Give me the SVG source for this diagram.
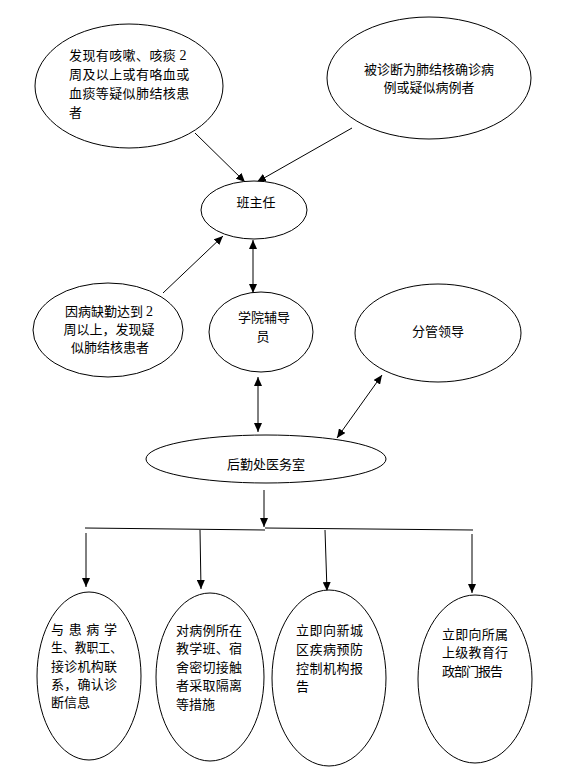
<svg xmlns="http://www.w3.org/2000/svg" width="584" height="781" viewBox="0 0 584 781">
<style>
.n{fill:#fff;stroke:#000;stroke-width:1}
.t{font-family:"Noto Sans CJK SC","Liberation Sans",sans-serif;font-size:13px;fill:#000}
.c{text-anchor:middle}
.d{font-family:"Liberation Serif",serif;font-size:14px;fill:#000}
.l{stroke:#000;stroke-width:1;fill:none}
.a{marker-end:url(#ah)}
.b{marker-start:url(#ah);marker-end:url(#ah)}
</style>
<defs>
<marker id="ah" markerUnits="userSpaceOnUse" markerWidth="9" markerHeight="8" refX="9" refY="4" orient="auto-start-reverse" viewBox="0 0 9 8">
<path d="M0,0 L9,4 L0,8 z" fill="#000"/>
</marker>
</defs>
<rect width="584" height="781" fill="#fff"/>
<g id="connectors">
<line class="l a" x1="195" y1="133" x2="245" y2="182"/>
<line class="l a" x1="352" y1="128" x2="257" y2="182"/>
<line class="l a" x1="163" y1="293" x2="223" y2="236"/>
<line class="l b" x1="253" y1="240" x2="253" y2="293"/>
<line class="l b" x1="258" y1="377" x2="258" y2="432"/>
<line class="l b" x1="382" y1="375" x2="337" y2="438"/>
<line class="l a" x1="264" y1="490" x2="264" y2="527"/>
<line class="l" x1="85" y1="528" x2="265" y2="530"/>
<line class="l" x1="265" y1="528" x2="473" y2="530"/>
<line class="l a" x1="86" y1="533" x2="86" y2="587"/>
<line class="l a" x1="200" y1="530" x2="201" y2="589"/>
<line class="l a" x1="325" y1="530" x2="327" y2="591"/>
<line class="l a" x1="472" y1="534" x2="472" y2="593"/>
</g>
<g id="n1">
<ellipse class="n" cx="129" cy="86" rx="94" ry="62"/>
<text class="t" x="69" y="60" letter-spacing="0.4">发现有咳嗽、咳痰 <tspan class="d">2</tspan></text>
<text class="t" x="69" y="79" letter-spacing="0.4">周及以上或有咯血或</text>
<text class="t" x="69" y="98" letter-spacing="0.4">血痰等疑似肺结核患</text>
<text class="t" x="69" y="117">者</text>
</g>
<g id="n2">
<ellipse class="n" cx="429" cy="78" rx="102" ry="61"/>
<text class="t c" x="429" y="74" font-size="12.5">被诊断为肺结核确诊病</text>
<text class="t c" x="429" y="92" font-size="12.5">例或疑似病例者</text>
</g>
<g id="n3">
<ellipse class="n" cx="254" cy="210" rx="53" ry="29"/>
<text class="t c" x="256" y="207" font-size="12.5">班主任</text>
</g>
<g id="n4">
<ellipse class="n" cx="108" cy="330" rx="75" ry="47"/>
<text class="t c" x="109" y="316">因病缺勤达到 <tspan class="d">2</tspan></text>
<text class="t c" x="109" y="334">周以上，发现疑</text>
<text class="t c" x="110" y="352">似肺结核患者</text>
</g>
<g id="n5">
<ellipse class="n" cx="261" cy="332" rx="52" ry="40"/>
<text class="t c" x="264" y="322">学院辅导</text>
<text class="t c" x="263" y="341">员</text>
</g>
<g id="n6">
<ellipse class="n" cx="438" cy="333" rx="83" ry="49"/>
<text class="t c" x="438" y="336" font-size="12.5">分管领导</text>
</g>
<g id="n7">
<ellipse class="n" cx="266" cy="459" rx="120" ry="24"/>
<text class="t c" x="266" y="469" font-size="12.5">后勤处医务室</text>
</g>
<g id="n8">
<ellipse class="n" cx="89" cy="676" rx="52" ry="84"/>
<text class="t" x="51" y="634" textLength="66" lengthAdjust="spacing">与 患 病 学</text>
<text class="t" x="51" y="652" textLength="71" lengthAdjust="spacingAndGlyphs">生、教职工、</text>
<text class="t" x="51" y="671" textLength="66" lengthAdjust="spacing">接诊机构联</text>
<text class="t" x="51" y="689" textLength="66" lengthAdjust="spacing">系，确认诊</text>
<text class="t" x="51" y="707">断信息</text>
</g>
<g id="n9">
<ellipse class="n" cx="210" cy="677" rx="54" ry="84"/>
<text class="t" x="176" y="635" textLength="66" lengthAdjust="spacing">对病例所在</text>
<text class="t" x="176" y="653" textLength="66" lengthAdjust="spacing">教学班、宿</text>
<text class="t" x="176" y="672" textLength="66" lengthAdjust="spacing">舍密切接触</text>
<text class="t" x="176" y="690" textLength="66" lengthAdjust="spacing">者采取隔离</text>
<text class="t" x="176" y="709">等措施</text>
</g>
<g id="n10">
<ellipse class="n" cx="329" cy="678" rx="57" ry="88"/>
<text class="t" x="296" y="635" textLength="67" lengthAdjust="spacing">立即向新城</text>
<text class="t" x="296" y="654" textLength="67" lengthAdjust="spacing">区疾病预防</text>
<text class="t" x="296" y="673" textLength="67" lengthAdjust="spacing">控制机构报</text>
<text class="t" x="296" y="691">告</text>
</g>
<g id="n11">
<ellipse class="n" cx="475" cy="679" rx="57" ry="84"/>
<text class="t" x="442" y="639" textLength="66" lengthAdjust="spacing">立即向所属</text>
<text class="t" x="442" y="657" textLength="66" lengthAdjust="spacing">上级教育行</text>
<text class="t" x="442" y="676" textLength="61" lengthAdjust="spacing">政部门报告</text>
</g>
</svg>
